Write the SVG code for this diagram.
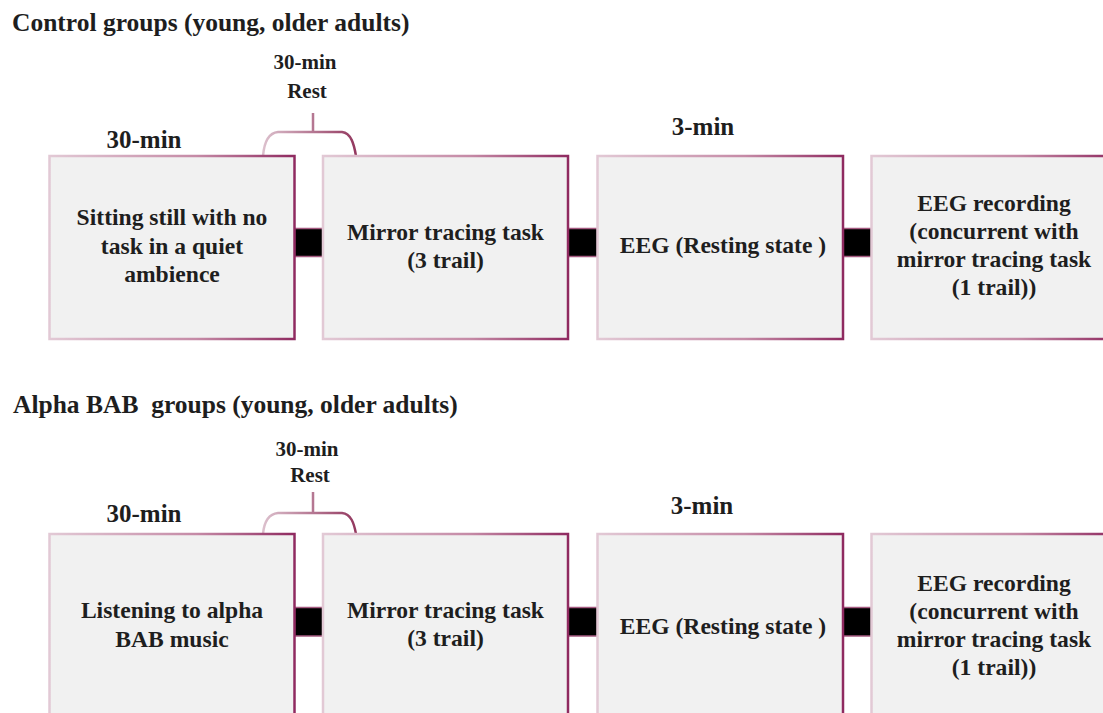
<svg xmlns="http://www.w3.org/2000/svg" width="1103" height="713" viewBox="0 0 1103 713">
<defs>
<linearGradient id="bord" x1="0" y1="0" x2="1" y2="0">
<stop offset="0" stop-color="#e2c9d5"/>
<stop offset="0.6" stop-color="#c58aa6"/>
<stop offset="1" stop-color="#8f2a60"/>
</linearGradient>
<linearGradient id="brace" x1="0" y1="0" x2="1" y2="0">
<stop offset="0" stop-color="#dcc0cd"/>
<stop offset="1" stop-color="#93385f"/>
</linearGradient>
<style>
text{font-family:"Liberation Serif","Times New Roman",serif;font-weight:bold;fill:#1e1e1e;}
.h{font-size:25.5px;}
.lbl{font-size:25px;text-anchor:middle;}
.rest{font-size:21px;text-anchor:middle;}
.t{font-size:23.6px;text-anchor:middle;}
.box{fill:#f1f1f1;stroke:url(#bord);stroke-width:2.5;}
.con{fill:#000;stroke:#a55a80;stroke-width:1.5;}
.br{fill:none;stroke:url(#brace);stroke-width:2.5;}
</style>
</defs>

<text class="h" x="12" y="31">Control groups (young, older adults)</text>
<text class="h" x="13" y="413" xml:space="preserve">Alpha BAB  groups (young, older adults)</text>

<g id="labels-top">
<text class="lbl" x="144" y="148">30-min</text>
<text class="rest" x="305" y="69">30-min</text>
<text class="rest" x="307" y="98">Rest</text>
<text class="lbl" x="703" y="135">3-min</text>
</g>
<g id="labels-bottom">
<text class="lbl" x="144" y="522">30-min</text>
<text class="rest" x="307" y="456">30-min</text>
<text class="rest" x="310" y="482">Rest</text>
<text class="lbl" x="702" y="514">3-min</text>
</g>

<g id="connectors">
<rect class="con" x="294.5" y="228.5" width="28.5" height="28"/>
<rect class="con" x="568" y="228.5" width="29.5" height="28"/>
<rect class="con" x="843" y="228.5" width="28.5" height="28"/>
<rect class="con" x="294.5" y="607.5" width="28.5" height="28.5"/>
<rect class="con" x="568" y="607.5" width="29.5" height="28.5"/>
<rect class="con" x="843" y="607.5" width="28.5" height="28.5"/>
<path class="br" d="M263,156 C264,144 268,133 278,132 L342,132 C351,133 354,144 356,156 M313,113 L313,132"/>
<path class="br" d="M263,534 C264,523 268,514 278,513 L342,513 C351,514 354,523 356,534 M313,492 L313,513"/>
</g>

<g id="n1">
<rect class="box" x="49.5" y="156" width="245" height="183"/>
<text class="t" x="172" y="225">Sitting still with no</text>
<text class="t" x="172" y="253.5">task in a quiet</text>
<text class="t" x="172" y="282">ambience</text>
</g>
<g id="n2">
<rect class="box" x="323" y="156" width="245" height="183"/>
<text class="t" x="445.5" y="240">Mirror tracing task</text>
<text class="t" x="445.5" y="268">(3 trail)</text>
</g>
<g id="n3">
<rect class="box" x="597.5" y="156" width="245.5" height="183"/>
<text class="t" x="723" y="253">EEG (Resting state )</text>
</g>
<g id="n4">
<rect class="box" x="871.5" y="156" width="245" height="183"/>
<text class="t" x="994" y="211">EEG recording</text>
<text class="t" x="994" y="239">(concurrent with</text>
<text class="t" x="994" y="267">mirror tracing task</text>
<text class="t" x="994" y="295">(1 trail))</text>
</g>

<g id="n5">
<rect class="box" x="49.5" y="534" width="245" height="183"/>
<text class="t" x="172" y="618">Listening to alpha</text>
<text class="t" x="172" y="647">BAB music</text>
</g>
<g id="n6">
<rect class="box" x="323" y="534" width="245" height="183"/>
<text class="t" x="445.5" y="618">Mirror tracing task</text>
<text class="t" x="445.5" y="646">(3 trail)</text>
</g>
<g id="n7">
<rect class="box" x="597.5" y="534" width="245.5" height="183"/>
<text class="t" x="723" y="634">EEG (Resting state )</text>
</g>
<g id="n8">
<rect class="box" x="871.5" y="534" width="245" height="183"/>
<text class="t" x="994" y="591">EEG recording</text>
<text class="t" x="994" y="619">(concurrent with</text>
<text class="t" x="994" y="647">mirror tracing task</text>
<text class="t" x="994" y="675">(1 trail))</text>
</g>
</svg>
